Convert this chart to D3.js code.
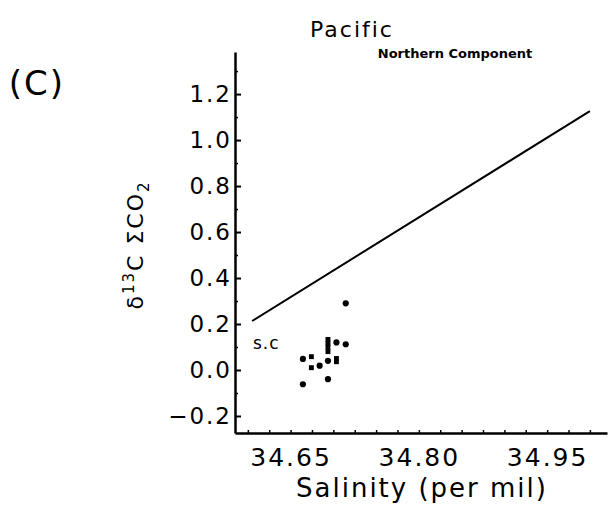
<!DOCTYPE html>
<html>
<head>
<meta charset="utf-8">
<script src="https://cdn.jsdelivr.net/npm/d3@7"></script>
<style>
  body { margin: 0; background: #fff; }
  text { font-family: "DejaVu Sans", sans-serif; fill: #000; }
</style>
</head>
<body>
<div id="chart"></div>
<script>
/* Data */
var salinity  = [34.7145, 34.6644, 34.6743, 34.6743, 34.684, 34.6937, 34.6937, 34.6937, 34.6937, 34.6937, 34.7036, 34.7036, 34.7036, 34.7145, 34.6644, 34.6937];
var d13c      = [0.290, 0.048, 0.058, 0.010, 0.019, 0.040, 0.133, 0.116, 0.099, 0.080, 0.120, 0.050, 0.036, 0.112, -0.062, -0.040];
var markers   = ["circle", "circle", "square", "square", "circle", "circle", "square", "square", "square", "square", "circle", "square", "square", "circle", "circle", "circle"];
var lineSal   = [34.605, 35.0];
var lineD13c  = [0.213, 1.126];
var xTicks    = [34.65, 34.80, 34.95];
var yTicks    = [-0.2, 0.0, 0.2, 0.4, 0.6, 0.8, 1.0, 1.2];

/* Dimensions */
var width = 608, height = 509;

var svg = d3.select("#chart").append("svg")
    .attr("width", width)
    .attr("height", height);

var x = d3.scaleLinear().domain([34.585, 35.02]).range([235, 607]);
var y = d3.scaleLinear().domain([-0.274, 1.383]).range([433, 52]);

// Minor x ticks (tiny, pointing up)
var xMinor = d3.range(34.60, 35.01, 0.025);
svg.append("g")
    .attr("transform", "translate(0,433)")
    .call(d3.axisTop(x).tickValues(xMinor).tickSize(3).tickFormat(""))
    .call(function (g) { g.select(".domain").remove(); })
    .selectAll("line").attr("stroke-width", 1.5);

// X axis
var gx = svg.append("g")
    .attr("transform", "translate(0,433)")
    .call(d3.axisBottom(x).tickValues(xTicks).tickSize(0).tickFormat(d3.format(".2f")));
gx.select(".domain").attr("stroke-width", 2.5);
gx.selectAll("text")
    .attr("font-size", 25)
    .attr("letter-spacing", 2)
    .attr("y", 33)
    .attr("dy", 0);

// Minor y ticks
var yMinor = d3.range(-0.1, 1.31, 0.2);
svg.append("g")
    .attr("transform", "translate(235,0)")
    .call(d3.axisRight(y).tickValues(yMinor).tickSize(3).tickFormat(""))
    .call(function (g) { g.select(".domain").remove(); })
    .selectAll("line").attr("stroke-width", 1.5);

// Y axis
var gy = svg.append("g")
    .attr("transform", "translate(235,0)")
    .call(d3.axisLeft(y).tickValues(yTicks).tickSize(0).tickPadding(3)
        .tickFormat(function (d) { return d3.format(".1f")(d).replace("-", "\u2212"); }));
gy.select(".domain").attr("stroke-width", 2.5);
gy.selectAll("text")
    .attr("font-size", 23)
    .attr("letter-spacing", 2);
// inward major ticks
gy.selectAll(".tick").append("line")
    .attr("x1", 0).attr("x2", 6)
    .attr("stroke", "#000").attr("stroke-width", 2);

// Reference line
var line = d3.line()
    .x(function (d) { return x(d[0]); })
    .y(function (d) { return y(d[1]); });
svg.append("path")
    .datum(d3.zip(lineSal, lineD13c))
    .attr("d", line)
    .attr("fill", "none")
    .attr("stroke", "#000")
    .attr("stroke-width", 2);

// Points
svg.selectAll(".pt")
    .data(d3.range(salinity.length))
    .enter().append("path")
    .attr("class", "pt")
    .attr("transform", function (i) { return "translate(" + x(salinity[i]) + "," + y(d13c[i]) + ")"; })
    .attr("d", function (i) {
        return d3.symbol().type(markers[i] === "square" ? d3.symbolSquare : d3.symbolCircle).size(markers[i] === "square" ? 24 : 30)();
    })
    .attr("fill", "#000");

// Labels
svg.append("text")
    .attr("x", 253).attr("y", 349)
    .attr("font-size", 17).attr("letter-spacing", 1)
    .text("s.c");

svg.append("text")
    .attr("x", 352).attr("y", 37)
    .attr("text-anchor", "middle")
    .attr("font-size", 22).attr("letter-spacing", 2)
    .text("Pacific");

svg.append("text")
    .attr("x", 455).attr("y", 58)
    .attr("text-anchor", "middle")
    .attr("font-size", 13).attr("font-weight", "bold")
    .text("Northern Component");

svg.append("text")
    .attr("x", 37).attr("y", 95)
    .attr("text-anchor", "middle")
    .attr("font-size", 34).attr("letter-spacing", 2)
    .text("(C)");

svg.append("text")
    .attr("x", 422).attr("y", 497)
    .attr("text-anchor", "middle")
    .attr("font-size", 26).attr("letter-spacing", 2)
    .text("Salinity (per mil)");

var yl = svg.append("text")
    .attr("transform", "translate(143,245) rotate(-90)")
    .attr("text-anchor", "middle")
    .attr("font-size", 22).attr("letter-spacing", 2);
yl.append("tspan").text("\u03b4");
yl.append("tspan").attr("font-size", 15).attr("dy", -9).text("13");
yl.append("tspan").attr("dy", 9).text("C  \u03a3CO");
yl.append("tspan").attr("font-size", 15).attr("dy", 6).text("2");
</script>
</body>
</html>
